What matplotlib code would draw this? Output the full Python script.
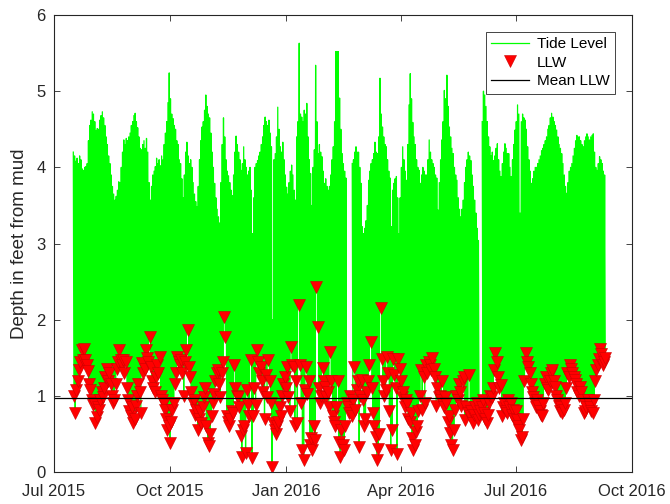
import numpy as np
import matplotlib
matplotlib.use('Agg')
import matplotlib.pyplot as plt
import matplotlib.dates as mdates

plt.rcParams['font.family'] = ['Liberation Sans', 'DejaVu Sans']

# daily readings, first day = 16 Jul 2015
first_day = '2015-07-16'

# daily high water (ft), nan = missing record
high_water = [
    4.20, 4.15, 4.08, 4.12, 4.05, 4.15, 4.10, 3.98, 3.96, 4.00,
    4.01, 4.05, 4.35, 4.55, 4.62, 4.73, 4.70, 4.60, 4.48, 4.51,
    4.50, 4.62, 4.68, 4.73, 4.65, 4.55, 4.40, 4.30, 4.15, 4.05,
    3.90, 3.75, 3.65, 3.57, 3.62, 3.70, 3.81, 3.80, 4.00, 4.20,
    4.36, 4.30, 4.38, 4.35, 4.40, 4.45, 4.55, 4.60, 4.68, 4.71,
    4.60, 4.52, 4.40, 4.25, 4.23, 4.30, 4.35, 4.25, 4.38, 4.20,
    3.80, 3.57, 3.75, 3.90, 3.95, 4.01, 4.12, 4.05, 4.10, 4.02,
    4.15, 4.10, 4.30, 4.45, 4.60, 4.85, 5.24, 4.90, 4.70, 4.64,
    4.55, 4.50, 4.35, 4.30, 4.10, 4.05, 3.85, 3.60, 3.90, 4.20,
    4.33, 4.15, 4.05, 4.10, 4.00, 3.80, 3.65, 3.55, 3.48, 3.75,
    4.10, 4.35, 4.53, 4.60, 4.75, 4.95, 4.80, 4.70, 4.65, 4.45,
    4.20, 4.00, 3.79, 3.60, 3.45, 3.35, 3.27, 3.80, 4.30, 4.65,
    4.40, 4.10, 3.95, 3.89, 3.80, 3.70, 3.63, 3.90, 4.20, 4.41,
    4.30, 4.20, 4.10, 3.96, 4.05, 4.27, 4.10, 4.00, 3.90, 3.95,
    4.00, 3.70, 3.13, 3.60, 4.00, 4.05, 4.09, 4.15, 4.20, 4.30,
    4.40, 4.55, 4.66, 4.60, 4.55, 4.62, 4.45, 4.27, 2.00, 4.10,
    4.18, 4.40, 4.79, 4.50, 4.27, 4.20, 4.33, 4.10, 3.90, 3.74,
    3.65, 3.80, 3.95, 4.03, 3.90, 3.70, 3.57, 4.40, 4.60, 5.63,
    4.70, 4.66, 4.60, 4.75, 4.70, 4.84, 4.40, 4.10, 3.92, 3.50,
    4.00, 4.23, 5.34, 4.60, 4.18, 4.30, 4.20, 4.14, 3.95, 3.79,
    3.85, 3.75, 3.70, 3.75, 3.90, 4.10, 4.27, 4.60, 5.52, 5.52,
    5.52, 4.91, 4.50, 4.18, 4.05, 3.95, 3.86, np.nan, np.nan, np.nan,
    np.nan, 4.05, 4.10, 4.20, 4.27, 4.20, 4.20, 4.00, 3.79, 3.22,
    3.13, 3.20, 3.30, 3.50, 3.83, 3.95, 4.05, 4.10, 4.18, 4.33,
    4.20, 4.18, 4.40, 5.17, 4.70, 4.53, 4.40, 4.30, 4.27, 4.10,
    3.95, 3.86, 3.22, 3.70, 3.79, 3.85, 3.88, 3.60, 3.13, 3.60,
    4.00, 4.27, 4.10, 3.95, 3.83, 4.30, 4.82, 5.23, 4.90, 4.59,
    4.40, 4.30, 4.10, 4.00, 3.96, 3.79, 3.90, 4.00, 3.95, 3.90,
    3.90, 4.10, 4.36, 4.20, 4.10, 4.05, 4.00, 3.90, 3.86, 3.44,
    3.80, 4.10, 4.36, 4.60, 5.01, 4.90, 5.21, 4.80, 4.53, 4.40,
    4.25, 4.18, 4.00, 3.90, 3.83, 3.60, 3.45, 3.35, 3.45, 3.57,
    3.80, 4.00, 4.10, 4.20, 4.15, 4.09, 3.90, 3.75, 3.57, 3.40,
    3.20, 3.04, np.nan, np.nan, 4.60, 5.00, 4.95, 4.80, 4.60, 4.40,
    4.27, 4.15, 4.20, 4.09, 4.15, 4.25, 4.31, 4.10, 3.95, 3.88,
    4.05, 4.20, 4.31, 4.25, 4.18, 4.18, 4.00, 3.88, 4.10, 4.30,
    4.49, 4.60, 4.82, 4.70, 3.40, 4.60, 4.70, 4.65, 4.62, 4.50,
    4.27, 4.10, 3.95, 3.79, 3.85, 3.95, 4.00, 4.00, 4.05, 4.10,
    4.15, 4.22, 4.25, 4.30, 4.35, 4.40, 4.50, 4.55, 4.65, 4.71,
    4.66, 4.60, 4.55, 4.49, 4.40, 4.30, 4.25, 4.18, 4.05, 3.90,
    3.75, 3.66, 3.80, 3.95, 4.00, 4.05, 4.15, 4.25, 4.35, 4.42,
    4.40, 4.40, 4.35, 4.30, 4.27, 4.35, 4.40, 4.44, 4.40, 4.36,
    4.40, 4.42, 4.44, 4.20, 4.00, 3.96, 4.05, 4.14, 4.10, 4.05,
    3.95, 3.90,
]

# daily lower low water (ft)
llw = [
    1.00, 0.77, 1.08, 1.20, 1.34, 1.45, 1.60, 1.47, 1.62, 1.47,
    1.40, 1.32, 1.15, 1.08, 0.95, 0.88, 0.90, 0.64, 0.72, 0.85,
    0.82, 0.95, 1.05, 0.99, 1.10, 1.25, 1.35, 1.20, 1.30, 1.15,
    1.00, 0.90, 0.95, 1.16, 1.35, 1.45, 1.60, 1.47, 1.40, 1.47,
    1.30, 1.45, 1.10, 0.95, 0.80, 0.73, 0.85, 0.64, 0.70, 0.86,
    1.00, 1.16, 1.05, 0.77, 1.43, 1.30, 1.35, 1.60, 1.50, 1.45,
    1.77, 1.38, 1.20, 1.10, 1.05, 1.25, 1.40, 1.30, 1.51, 1.00,
    0.95, 0.90, 0.82, 0.70, 0.55, 0.60, 0.38, 0.65, 0.82, 0.90,
    1.16, 1.30, 1.51, 1.45, 1.40, 1.47, 1.30, 1.00, 1.45, 1.60,
    1.86, 1.38, 1.25, 1.05, 0.90, 0.95, 0.75, 0.82, 0.55, 0.70,
    0.80, 0.64, 0.85, 0.99, 1.10, 0.60, 0.38, 0.34, 0.50, 0.73,
    0.90, 1.03, 1.20, 1.30, 1.34, 1.15, 0.99, 1.30, 1.45, 2.03,
    1.77, 0.73, 0.65, 0.60, 0.70, 0.80, 0.77, 1.40, 1.10, 1.00,
    0.99, 0.85, 0.47, 0.20, 0.55, 0.60, 0.25, 1.08, 0.88, 0.73,
    1.47, 0.18, 0.73, 1.10, 0.88, 1.60, 1.45, 1.30, 1.38, 1.20,
    1.05, 0.70, 1.27, 0.99, 1.47, 1.20, 0.90, 0.07, 0.64, 0.55,
    0.50, 0.60, 0.65, 0.85, 0.73, 1.00, 1.16, 1.25, 1.10, 1.38,
    0.99, 0.80, 1.64, 1.40, 1.38, 0.60, 1.20, 0.64, 2.19, 1.40,
    0.90, 0.29, 0.16, 1.08, 1.38, 1.03, 1.19, 0.35, 0.45, 0.29,
    0.60, 0.42, 2.43, 1.91, 1.10, 0.90, 1.00, 1.36, 1.20, 1.12,
    0.99, 1.05, 0.85, 1.58, 1.20, 0.73, 0.65, 0.60, 0.85, 1.19,
    0.40, 0.20, 0.55, 0.35, 0.29, 0.60, 0.90, 0.85, 0.77, 1.00,
    0.73, 0.95, 1.38, 0.82, 1.08, 1.20, 0.33, 1.00, 1.21, 0.95,
    0.60, 0.70, 1.05, 1.20, 1.40, 1.71, 1.10, 0.77, 0.60, 0.46,
    0.16, 0.30, 0.50, 2.15, 1.49, 1.20, 1.00, 1.08, 1.51, 1.30,
    0.80, 0.29, 0.55, 1.49, 1.27, 1.10, 0.24, 1.49, 1.35, 1.20,
    0.99, 1.05, 0.85, 0.95, 0.90, 0.70, 0.65, 0.77, 0.45, 0.29,
    0.35, 0.53, 0.60, 0.80, 1.00, 1.34, 0.82, 1.25, 0.90, 1.40,
    1.30, 1.45, 1.40, 1.34, 1.50, 1.35, 1.25, 0.86, 1.10, 0.99,
    1.00, 0.95, 1.20, 0.85, 0.99, 0.90, 0.65, 0.73, 0.51, 0.35,
    0.29, 0.55, 0.82, 1.00, 0.95, 1.16, 1.05, 0.86, 1.20, 1.25,
    0.68, 0.85, 0.77, 1.27, 0.73, 0.80, 0.64, 0.75, 0.85, 0.90,
    0.68, 0.75, 0.80, 0.85, 0.95, 0.77, 0.70, 0.64, 0.75, 0.90,
    1.00, 0.99, 1.10, 1.34, 1.56, 1.45, 1.25, 1.10, 1.14, 0.73,
    0.85, 0.90, 0.80, 0.77, 0.95, 0.85, 0.90, 0.75, 0.82, 0.70,
    0.80, 0.68, 0.60, 0.55, 0.42, 0.46, 0.70, 1.20, 1.56, 1.45,
    1.38, 1.30, 1.16, 1.05, 0.99, 0.90, 0.85, 0.95, 0.86, 0.80,
    0.75, 0.73, 0.90, 1.16, 1.25, 1.10, 1.08, 1.20, 1.30, 1.34,
    1.20, 1.12, 1.00, 0.95, 0.86, 0.80, 0.85, 0.78, 0.82, 0.90,
    1.10, 1.30, 1.25, 1.40, 1.35, 1.30, 1.25, 1.21, 1.15, 1.05,
    1.00, 1.12, 1.05, 0.95, 0.77, 0.80, 0.85, 0.95, 0.90, 0.85,
    0.80, 0.77, 0.95, 1.20, 1.34, 1.40, 1.49, 1.62, 1.55, 1.40,
    1.45, 1.50,
]

mean_llw = 0.97

high_water = np.array(high_water)
llw = np.array(llw)
assert len(high_water) == len(llw)

day = mdates.date2num(np.datetime64(first_day)) + np.arange(len(llw))
t_high = day + 0.3
t_low = day + 0.8

# tide trace: high then lower low each day
tide_t = np.column_stack([t_high, t_low]).ravel()
tide_low = np.where(np.isnan(high_water), np.nan, llw)
tide_v = np.column_stack([high_water, tide_low]).ravel()

fig = plt.figure(figsize=(6.7, 5.04), dpi=100)
ax = fig.add_axes([0.0806, 0.0635, 0.8627, 0.9067])

ax.plot(tide_t, tide_v, color=(0, 1, 0), lw=0.9, label='Tide Level')
ax.plot(t_low, llw, 'v', ms=9, mfc=(1, 0, 0), mec=(0.8, 0, 0), mew=0.4,
        ls='none', label='LLW')
ax.axhline(mean_llw, color='k', lw=0.9, label='Mean LLW')

ax.set_xlim(mdates.date2num(np.datetime64('2015-07-01')),
            mdates.date2num(np.datetime64('2016-10-01')))
ax.set_ylim(0, 6)
ax.xaxis.set_major_locator(mdates.MonthLocator(bymonth=[1, 4, 7, 10]))
ax.xaxis.set_major_formatter(mdates.DateFormatter('%b %Y'))
ax.set_yticks(range(7))

gray = '0.15'
for s in ax.spines.values():
    s.set_color(gray)
    s.set_linewidth(0.8)
ax.tick_params(direction='in', length=4, width=0.6, top=True, right=True,
               colors=gray, labelsize=12)
ax.tick_params(axis='x', pad=9)
ax.tick_params(axis='y', pad=6)
ax.set_ylabel('Depth in feet from mud', fontsize=13.5, color=gray, labelpad=6)

leg = ax.legend(loc='upper right', fontsize=11, fancybox=False, framealpha=1,
                edgecolor=gray, handlelength=2.5, labelspacing=0.3,
                borderaxespad=1.1, borderpad=0.35, handletextpad=0.5)
leg.get_frame().set_linewidth(0.6)

fig.savefig('out.png', dpi=100)
